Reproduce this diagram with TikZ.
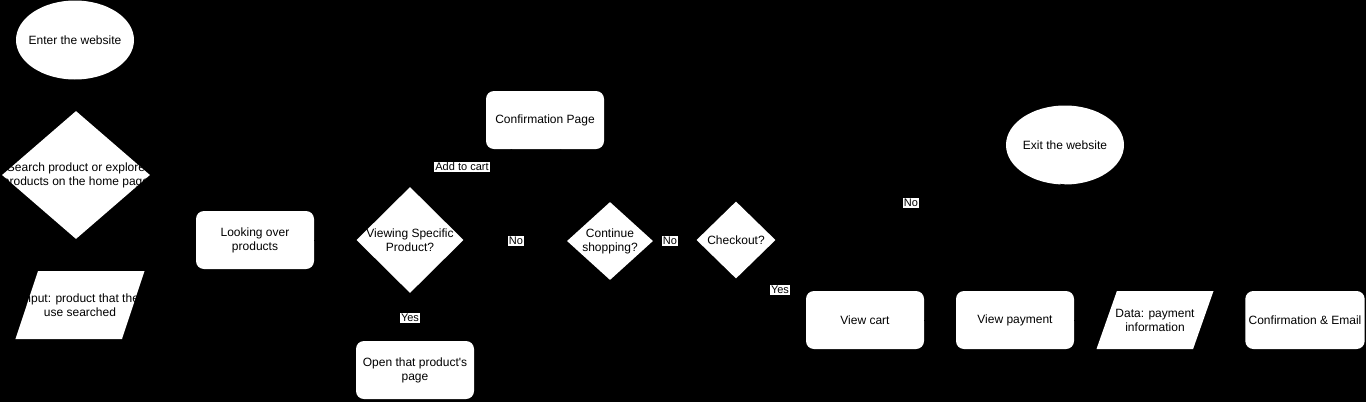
\documentclass[tikz,border=0pt]{standalone}
\usepackage{fontspec}
\setmainfont{Liberation Sans}[Ligatures=TeXOff]
\usetikzlibrary{shapes.geometric,arrows.meta}

\begin{document}
\begin{tikzpicture}[x=1pt,y=-1pt,every node/.style={font=\fontsize{12}{14}\selectfont},
  proc/.style={fill=white,rounded corners=8pt,minimum width=118pt,minimum height=58pt,align=center},
  term/.style={ellipse,fill=white,inner sep=0pt,minimum width=118pt,minimum height=79pt},
  decision/.style={diamond,fill=white,inner sep=0pt},
  dtext/.style={align=center,font=\fontsize{12}{14}\selectfont},
  io/.style={trapezium,trapezium left angle=75,trapezium right angle=105,trapezium stretches=true,fill=white,inner sep=1pt},
  lbl/.style={fill=white,inner sep=1pt,font=\fontsize{11}{12}\selectfont},
  flow/.style={draw=black,-{Stealth}}]
\fill[black] (0,0) rectangle (1366,402);
\useasboundingbox (0,0) rectangle (1366,402);

% left column
\node[term,label={[dtext]center:Enter the website}] (enter) at (75,40) {};
\node[decision,minimum width=148pt,minimum height=128pt,
  label={[dtext]center:Search product or explore\\products on the home page}] (search) at (76,175) {};
\node[io,minimum width=129pt,minimum height=68pt,
  label={[dtext]center:Input: product that the\\use searched}] (input) at (80,305) {};

% browsing
\node[proc] (looking) at (255,240) {Looking over\\products};
\node[decision,minimum width=107pt,minimum height=106pt,
  label={[dtext]center:Viewing Specific\\Product?}] (viewing) at (410,240) {};
\node[proc] (open) at (415,370) {Open that product's\\page};
\node[proc] (confpage) at (545,120) {Confirmation Page};
\node[decision,minimum width=86pt,minimum height=78pt,
  label={[dtext]center:Continue\\shopping?}] (continue) at (610,241) {};
\node[decision,minimum width=79pt,minimum height=77pt,
  label={[dtext]center:Checkout?}] (checkout) at (736,240) {};

% checkout row
\node[term,label={[dtext]center:Exit the website}] (exit) at (1065,145) {};
\node[proc] (cart) at (865,320) {View cart};
\node[proc] (payment) at (1015,320) {View payment};
\node[io,minimum width=117pt,minimum height=58pt,
  label={[dtext]center:Data: payment\\information}] (paydata) at (1155,320) {};
\node[proc] (email) at (1305,320) {Confirmation \& Email};

% connectors (black on black, as in the original)
\draw[flow] (enter) -- (search);
\draw[flow] (search) -- (input);
\draw[flow] (input) -- (looking);
\draw[flow] (looking) -- (viewing);
\draw[flow] (viewing) -- (open);
\draw[flow] (viewing) -- (continue);
\draw[flow] (viewing) -- (confpage);
\draw[flow] (confpage) -- (continue);
\draw[flow] (continue) -- (checkout);
\draw[flow] (checkout) -- (cart);
\draw[flow] (checkout.east) -- (exit.south);
\draw[flow] (cart) -- (payment);
\draw[flow] (payment) -- (paydata);
\draw[flow] (paydata) -- (email);

% edge labels
\node[lbl] (lyes1) at (410,318) {Yes};
\node[lbl] (lno1) at (516,241) {No};
\node[lbl] (lcart) at (462,167) {Add to cart};
\node[lbl] (lno2) at (670,241) {No};
\node[lbl] (lyes2) at (780,290) {Yes};
\node[lbl] (lno3) at (911,203) {No};
\end{tikzpicture}
\end{document}
